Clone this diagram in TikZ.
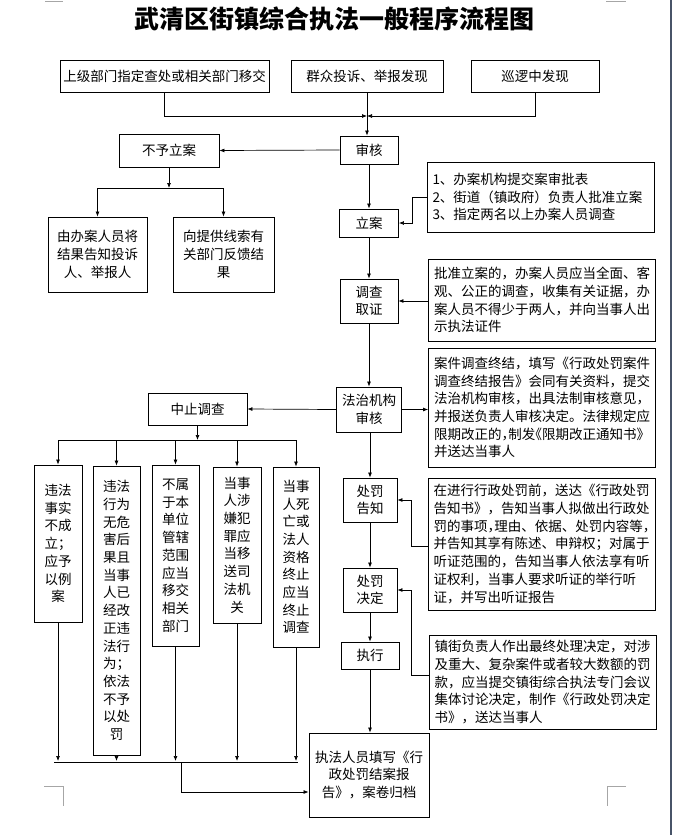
\documentclass[tikz,border=0pt]{standalone}
\usepackage{fontspec}
\setmainfont{Noto Sans CJK SC}
\usetikzlibrary{arrows.meta,calc}
\newcommand{\hcm}{\makebox[0.5em][l]{，}}
\newcommand{\hlq}{\makebox[0.5em][r]{《}}
\begin{document}
\begin{tikzpicture}[x=1pt,y=-1pt,
  box/.style={draw,line width=0.9pt,inner sep=0pt,font=\fontsize{13.5}{17.7}\selectfont,align=center},
  note/.style={draw,line width=0.9pt,inner xsep=5.5pt,inner ysep=0pt,text width=216pt,font=\fontsize{13.5}{17.7}\selectfont,align=left},
  arr/.style={line width=0.7pt,-{Latex[length=5pt,width=4pt]}},
  ln/.style={line width=0.7pt},
  cornermk/.style={line width=0.8pt,color=black!35}]
\useasboundingbox (0,0) rectangle (672,835);
% page decorations
\fill[color={rgb,255:red,72;green,84;blue,104}] (669.5,0) rectangle (672,835);
\draw[cornermk] (45,1) -- (63,1);
\draw[cornermk] (606,1) -- (626,1);
\draw[cornermk] (44,786) -- (63,786) -- (63,806);
\draw[cornermk] (626,786) -- (607,786) -- (607,806);
% title
\node[font=\fontsize{25}{25}\selectfont\bfseries] (title) at (334,19) {武清区街镇综合执法一般程序流程图};
% top row
\node[box,minimum width=209pt,minimum height=32pt] (top1) at (164.5,76) {上级部门指定查处或相关部门移交};
\node[box,minimum width=152pt,minimum height=32pt] (top2) at (367,76) {群众投诉、举报发现};
\node[box,minimum width=128pt,minimum height=32pt] (top3) at (535,76) {巡逻中发现};
\coordinate (j1) at (367,116);
% main column
\node[box,minimum width=58pt,minimum height=28pt] (shenhe) at (369,150) {审核};
\node[box,minimum width=59pt,minimum height=28pt] (lian) at (369,223) {立案};
\node[box,minimum width=58pt,minimum height=44pt] (diaocha) at (369,301) {调查\\取证};
\node[box,minimum width=65pt,minimum height=45pt] (fazhi) at (369,409.5) {法治机构\\审核};
\node[box,minimum width=54pt,minimum height=44pt] (gaozhi) at (370,500) {处罚\\告知};
\node[box,minimum width=54pt,minimum height=44pt] (jueding) at (370,590) {处罚\\决定};
\node[box,minimum width=58pt,minimum height=27pt] (zhixing) at (370,655.5) {执行};
\node[box,minimum width=120pt,minimum height=84pt] (guidang) at (369,775) {执法人员填写《行\\政处罚结案报\\告》，案卷归档};
% left upper
\node[box,minimum width=100pt,minimum height=33pt] (buyu) at (169,150.5) {不予立案};
\node[box,minimum width=99pt,minimum height=75pt] (youban) at (97.5,254.5) {由办案人员将\\结果告知投诉\\人、举报人};
\node[box,minimum width=101pt,minimum height=75pt] (xiang) at (223.5,254.5) {向提供线索有\\关部门反馈结\\果};
\coordinate (j2) at (169,188);
% notes
\node[note,minimum height=70pt] (note1) at (540.5,197) {1、办案机构提交案审批表\\2、街道（镇政府）负责人批准立案\\3、指定两名以上办案人员调查};
\node[note,minimum height=82pt] (note2) at (542,300) {批准立案的，办案人员应当全面、客\\观、公正的调查，收集有关证据，办\\案人员不得少于两人，并向当事人出\\示执法证件};
\node[note,minimum height=119pt] (note3) at (542,407.5) {案件调查终结，填写《行政处罚案件\\调查终结报告》会同有关资料，提交\\法治机构审核，出具法制审核意见，\\并报送负责人审核决定。法律规定应\\限期改正的\hcm 制发\hlq 限期改正通知书》\\并送达当事人};
\node[note,minimum height=132pt] (note4) at (541.5,544) {在进行行政处罚前，送达《行政处罚\\告知书》，告知当事人拟做出行政处\\罚的事项\hcm 理由、依据、处罚内容等\hcm\\并告知其享有陈述、申辩权；对属于\\听证范围的，告知当事人依法享有听\\证权利，当事人要求听证的举行听\\证，并写出听证报告};
\node[note,minimum height=94pt] (note5) at (542.5,682) {镇街负责人作出最终处理决定，对涉\\及重大、复杂案件或者较大数额的罚\\款，应当提交镇街综合执法专门会议\\集体讨论决定，制作《行政处罚决定\\书》，送达当事人};
% suspension
\node[box,minimum width=99pt,minimum height=32pt] (zhongzhi) at (197.5,409) {中止调查};
\coordinate (j3) at (197.5,440);
\node[box,minimum width=48pt,minimum height=157pt] (c1) at (58,543.5) {违法\\事实\\不成\\立；\\应予\\以例\\案};
\node[box,minimum width=47pt,minimum height=289pt] (c2) at (116.5,610.5) {违法\\行为\\无危\\害后\\果且\\当事\\人已\\经改\\正违\\法行\\为；\\依法\\不予\\以处\\罚};
\node[box,minimum width=47pt,minimum height=181pt] (c3) at (175.5,555.5) {不属\\于本\\单位\\管辖\\范围\\应当\\移交\\相关\\部门};
\node[box,minimum width=48pt,minimum height=156pt] (c4) at (237,545) {当事\\人涉\\嫌犯\\罪应\\当移\\送司\\法机\\关};
\node[box,minimum width=46pt,minimum height=180pt] (c5) at (296,557) {当事\\人死\\亡或\\法人\\资格\\终止\\应当\\终止\\调查};
\coordinate (j4) at (181,762);
% connectors top
\draw[arr] (top1.south) |- (j1);
\draw[arr] (top3.south) |- (j1);
\draw[arr] (top2.south) -- (top2.south |- shenhe.north);
\draw[arr] (shenhe.west) -- (buyu.east);
\draw[arr] (buyu.south) -- (j2);
\draw[arr] (j2) -| (youban.north);
\draw[arr] (j2) -| (xiang.north);
% main column connectors
\draw[arr] (shenhe.south) -- (lian.north);
\draw[arr] (lian.south) -- (diaocha.north);
\draw[arr] (diaocha.south) -- (fazhi.north);
\draw[arr] (fazhi.south -| gaozhi.north) -- (gaozhi.north);
\draw[arr] (gaozhi.south) -- (jueding.north);
\draw[arr] (jueding.south) -- (zhixing.north);
\draw[arr] (zhixing.south) -- (zhixing.south |- guidang.north);
% notes connectors
\draw[arr] (note1.west) -- ++(-14,0) |- (lian.east);
\draw[arr] (note2.west |- diaocha.east) -- (diaocha.east);
\draw[arr] (fazhi.east) -- (fazhi.east -| note3.west);
\draw[arr] ([yshift=-2pt]note4.west) -- ++(-16,0) |- (gaozhi.east);
\draw[arr] ([yshift=7pt]note5.west) -- ++(-17,0) |- (jueding.east);
% suspension connectors
\draw[arr] (fazhi.west) -- (zhongzhi.east);
\draw[arr] (zhongzhi.south) -- (j3);
\draw[ln] (c1.north |- j3) -- (c5.north |- j3);
\foreach \c in {c1,c2,c3,c4,c5}{
  \draw[arr] (\c.north |- j3) -- (\c.north);
  \draw[arr] (\c.south) -- ([yshift=1pt]\c.south |- j4);
}
\draw[ln] ([xshift=-4pt]c1.south |- j4) -- ([xshift=2pt]c5.south |- j4);
\draw[arr] (j4) |- ([yshift=-17pt]guidang.west);
\end{tikzpicture}
\end{document}
